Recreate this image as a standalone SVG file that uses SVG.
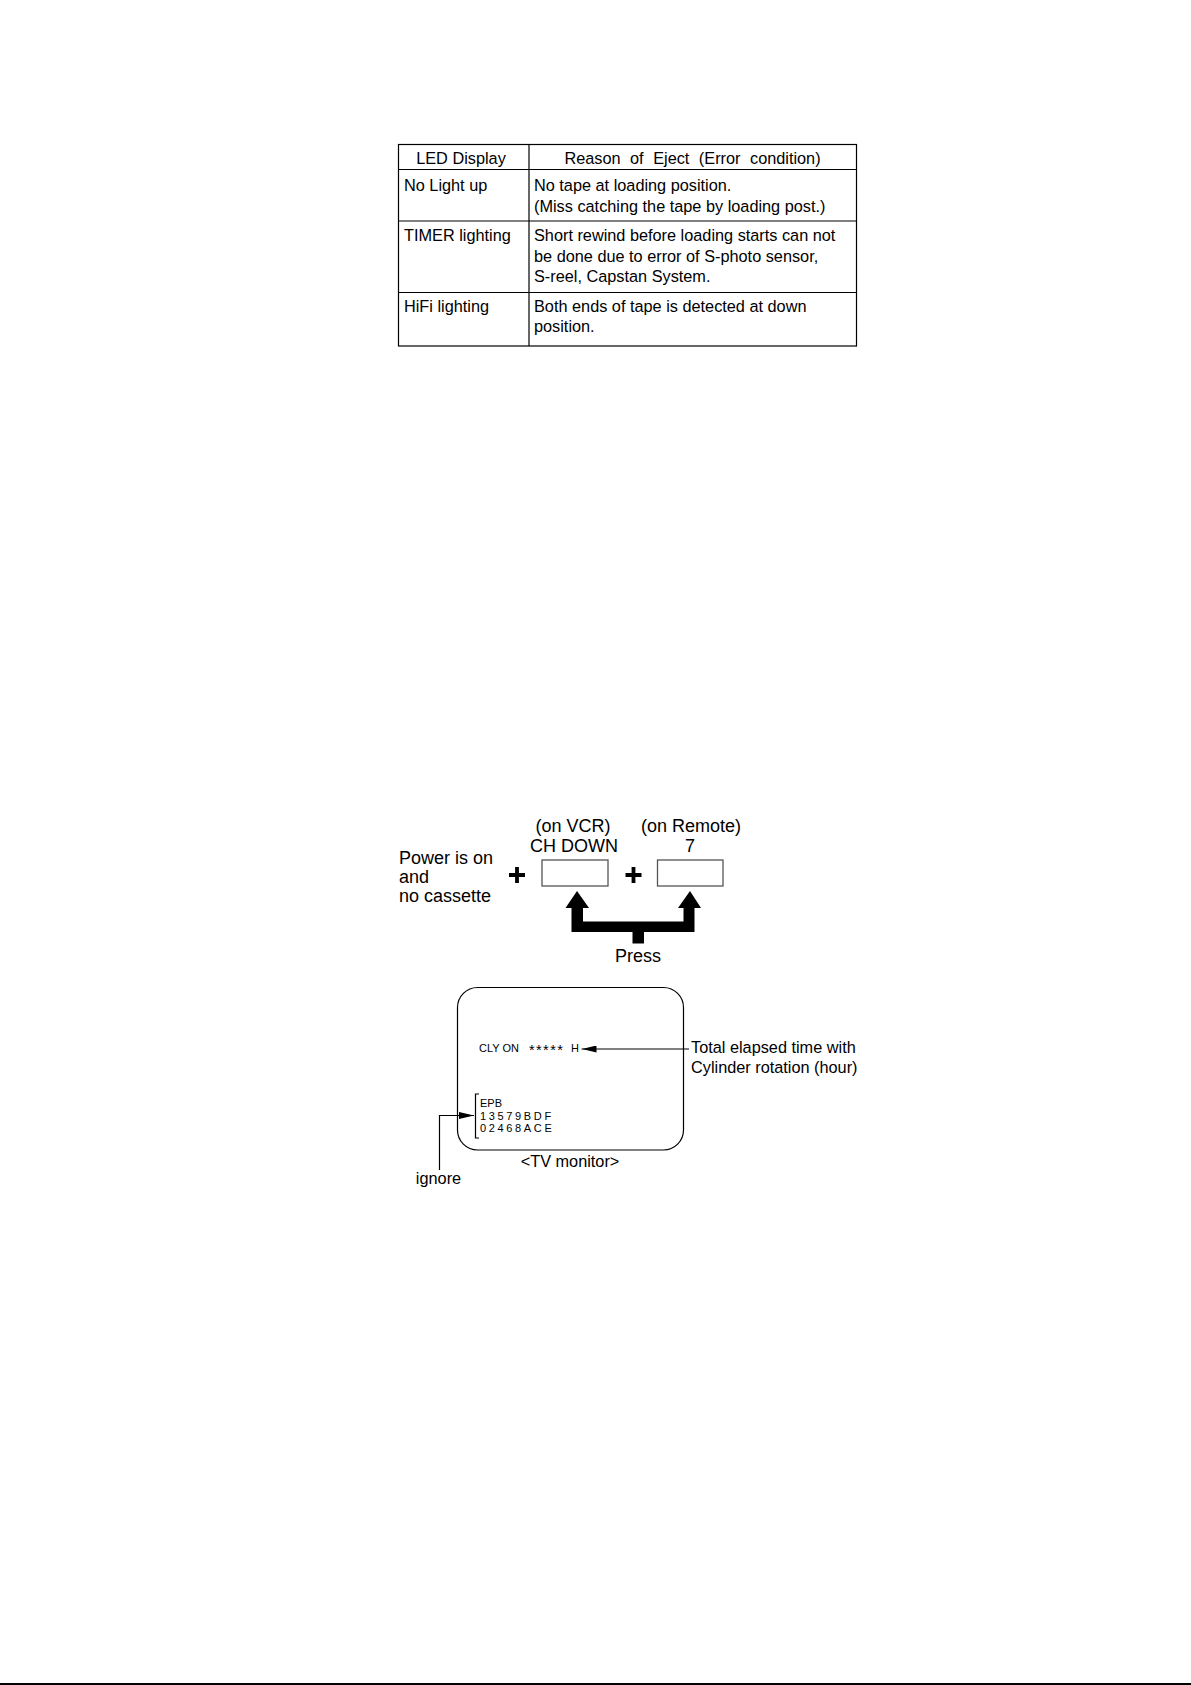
<svg xmlns="http://www.w3.org/2000/svg" width="1191" height="1685" viewBox="0 0 1191 1685">
<style>
text{font-family:"Liberation Sans",Arial,sans-serif;fill:#000}
.t{font-size:16.3px}
.m{font-size:18px}
.s{font-size:11px}
.ln{stroke:#000;stroke-width:1.2;fill:none}
</style>
<defs>
<marker id="ah" viewBox="0 0 10 10" refX="10" refY="5" markerWidth="15" markerHeight="7" markerUnits="userSpaceOnUse" orient="auto" preserveAspectRatio="none">
<path d="M0,0 L10,5 L0,10 Z" fill="#000"/>
</marker>
</defs>
<rect width="1191" height="1685" fill="#fff"/>
<g id="table">
<rect x="398.5" y="144.5" width="458" height="201.5" class="ln"/>
<line x1="529" y1="144.5" x2="529" y2="346" class="ln"/>
<line x1="398.5" y1="169.5" x2="856.5" y2="169.5" class="ln"/>
<line x1="398.5" y1="221" x2="856.5" y2="221" class="ln"/>
<line x1="398.5" y1="292.5" x2="856.5" y2="292.5" class="ln"/>
<text class="t" x="461" y="163.5" text-anchor="middle">LED Display</text>
<text class="t" x="692.5" y="163.5" text-anchor="middle" word-spacing="5">Reason of Eject (Error condition)</text>
<text class="t" x="404" y="191">No Light up</text>
<text class="t" x="534" y="191">No tape at loading position.</text>
<text class="t" x="534" y="211.5">(Miss catching the tape by loading post.)</text>
<text class="t" x="404" y="240.5">TIMER lighting</text>
<text class="t" x="534" y="240.5">Short rewind before loading starts can not</text>
<text class="t" x="534" y="261.5">be done due to error of S-photo sensor,</text>
<text class="t" x="534" y="282">S-reel, Capstan System.</text>
<text class="t" x="404" y="311.5">HiFi lighting</text>
<text class="t" x="534" y="311.5">Both ends of tape is detected at down</text>
<text class="t" x="534" y="332">position.</text>
</g>
<g id="power">
<text class="m" x="399" y="864">Power is on</text>
<text class="m" x="399" y="883">and</text>
<text class="m" x="399" y="902">no cassette</text>
</g>
<g id="plus1"><path d="M509,875 H525 M517,867 V883" stroke="#000" stroke-width="3.8"/></g>
<g id="chdown">
<text class="m" x="573" y="832" text-anchor="middle">(on VCR)</text>
<text class="m" x="574" y="852" text-anchor="middle">CH DOWN</text>
<rect x="542" y="860" width="66" height="26" fill="#fff" stroke="#555" stroke-width="1.3"/>
</g>
<g id="plus2"><path d="M625.5,875 H641.5 M633.5,867 V883" stroke="#000" stroke-width="3.8"/></g>
<g id="remote7">
<text class="m" x="691" y="832" text-anchor="middle">(on Remote)</text>
<text class="m" x="690" y="852" text-anchor="middle">7</text>
<rect x="657.5" y="860" width="65.5" height="26" fill="#fff" stroke="#555" stroke-width="1.3"/>
</g>
<g id="press">
<path d="M577,891 L589,908 L583,908 L583,921.5 L683.5,921.5 L683.5,908 L678,908 L690,891 L701,908 L694.5,908 L694.5,932 L644,932 L644,943.5 L632.5,943.5 L632.5,932 L571.5,932 L571.5,908 L565.5,908 Z" fill="#000"/>
<text class="m" x="638" y="962" text-anchor="middle">Press</text>
</g>
<g id="tv">
<rect x="457.5" y="987.5" width="226" height="162.5" rx="20" ry="20" class="ln"/>
<text class="s" x="479" y="1052">CLY ON</text>
<text x="529" y="1054.5" font-size="14.5" letter-spacing="1.4">*****</text>
<text class="s" x="571" y="1052">H</text>
<path d="M479,1094 H475.5 V1138 H479" class="ln" stroke-width="1"/>
<text class="s" x="480" y="1107">EPB</text>
<text class="s" x="480" y="1119.5" letter-spacing="2.65">13579BDF</text>
<text class="s" x="480" y="1131.5" letter-spacing="2.65">02468ACE</text>
<text class="t" x="570" y="1167" text-anchor="middle">&lt;TV monitor&gt;</text>
</g>
<g id="total">
<text class="t" x="691" y="1053">Total elapsed time with</text>
<text class="t" x="691" y="1073">Cylinder rotation (hour)</text>
</g>
<g id="ignore">
<text class="t" x="438.5" y="1184" text-anchor="middle">ignore</text>
</g>
<g id="connectors">
<line x1="689" y1="1049" x2="581.5" y2="1049" class="ln" stroke-width="1" marker-end="url(#ah)"/>
<path d="M439.5,1170 V1115.5 H474" class="ln" stroke-width="1" marker-end="url(#ah)"/>
</g>
<line x1="0" y1="1684" x2="1191" y2="1684" stroke="#000" stroke-width="2"/>
</svg>
